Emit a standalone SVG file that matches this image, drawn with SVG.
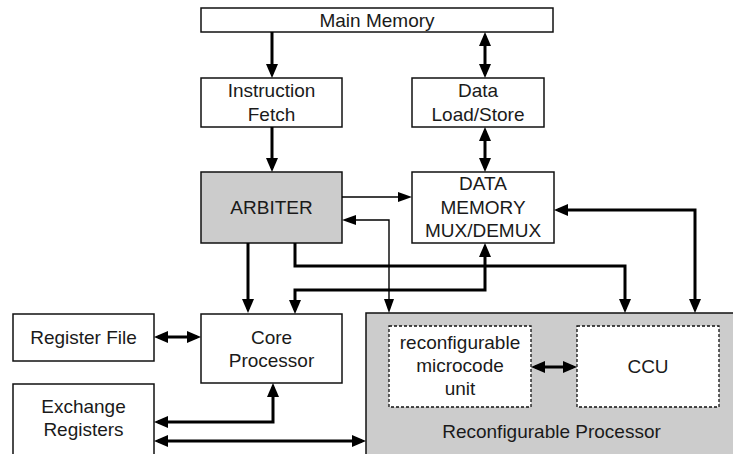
<svg xmlns="http://www.w3.org/2000/svg" width="733" height="454" viewBox="0 0 733 454">
<style>
.box{fill:#fff;stroke:#111;stroke-width:1.5}
.grey{fill:#cccccc;stroke:#111;stroke-width:1.5}
.dash{fill:#fff;stroke:#111;stroke-width:1.3;stroke-dasharray:3 2}
text{font-family:"Liberation Sans",Arial,sans-serif;font-size:19px;fill:#1a1a1a;text-anchor:middle}
.thick{fill:none;stroke:#000;stroke-width:3;marker-end:url(#ah)}
.thick.both{marker-start:url(#ah)}
.thin{fill:none;stroke:#000;stroke-width:1.4;marker-end:url(#at)}
.thin.both{marker-start:url(#at)}
</style>
<defs>
<marker id="ah" markerUnits="userSpaceOnUse" markerWidth="14" markerHeight="12" refX="10" refY="6" orient="auto-start-reverse"><path d="M0,0 L14,6 L0,12 z" fill="#000"/></marker>
<marker id="at" markerUnits="userSpaceOnUse" markerWidth="14" markerHeight="10" refX="11" refY="5" orient="auto-start-reverse"><path d="M0,0 L14,5 L0,10 z" fill="#000"/></marker>
</defs>
<rect width="733" height="454" fill="#fff"/>
<g id="main-memory"><rect class="box" x="201" y="8" width="352" height="24"/><text x="377" y="27">Main Memory</text></g>
<g id="instruction-fetch"><rect class="box" x="201" y="78" width="141" height="49"/><text x="271.5" y="97">Instruction</text><text x="271.5" y="121">Fetch</text></g>
<g id="data-load-store"><rect class="box" x="412" y="78" width="132" height="49"/><text x="478" y="97">Data</text><text x="478" y="121">Load/Store</text></g>
<g id="arbiter"><rect class="grey" x="201" y="172" width="141" height="71"/><text x="271.5" y="214">ARBITER</text></g>
<g id="data-memory-mux"><rect class="box" x="412" y="172" width="142" height="71"/><text x="483" y="190">DATA</text><text x="483" y="214">MEMORY</text><text x="483" y="237">MUX/DEMUX</text></g>
<g id="register-file"><rect class="box" x="13" y="314" width="141" height="47"/><text x="83.5" y="344">Register File</text></g>
<g id="core-processor"><rect class="box" x="201" y="314" width="141" height="69"/><text x="271.5" y="344">Core</text><text x="271.5" y="367">Processor</text></g>
<g id="exchange-registers"><rect class="box" x="13" y="384" width="141" height="80"/><text x="83.5" y="413">Exchange</text><text x="83.5" y="436">Registers</text></g>
<g id="reconfigurable-processor"><rect class="grey" x="366" y="313" width="380" height="150"/><text x="551.5" y="438">Reconfigurable Processor</text>
<g id="microcode-unit"><rect class="dash" x="389" y="326" width="142" height="81"/><text x="460" y="349">reconfigurable</text><text x="460" y="372">microcode</text><text x="460" y="395">unit</text></g>
<g id="ccu"><rect class="dash" x="577" y="326" width="142" height="81"/><text x="648" y="373">CCU</text></g>
</g>
<g id="connectors">
<path class="thick" d="M272,32 V74"/>
<path class="thick both" d="M485,36 V74"/>
<path class="thick both" d="M485,131 V168"/>
<path class="thick" d="M272,127 V168"/>
<path class="thin" d="M342,197 H409"/>
<path class="thin both" d="M345,220 H389 V310"/>
<path class="thick both" d="M558,210 H695 V309"/>
<path class="thick" d="M248,243 V309"/>
<path class="thick" d="M295,243 V266 H625 V309"/>
<path class="thick both" d="M485,247 V290 H295 V310"/>
<path class="thick both" d="M158,337 H197"/>
<path class="thick both" d="M273,387 V422 H158"/>
<path class="thick both" d="M158,441 H362"/>
<path class="thick both" d="M535,367 H573"/>
</g>
</svg>
